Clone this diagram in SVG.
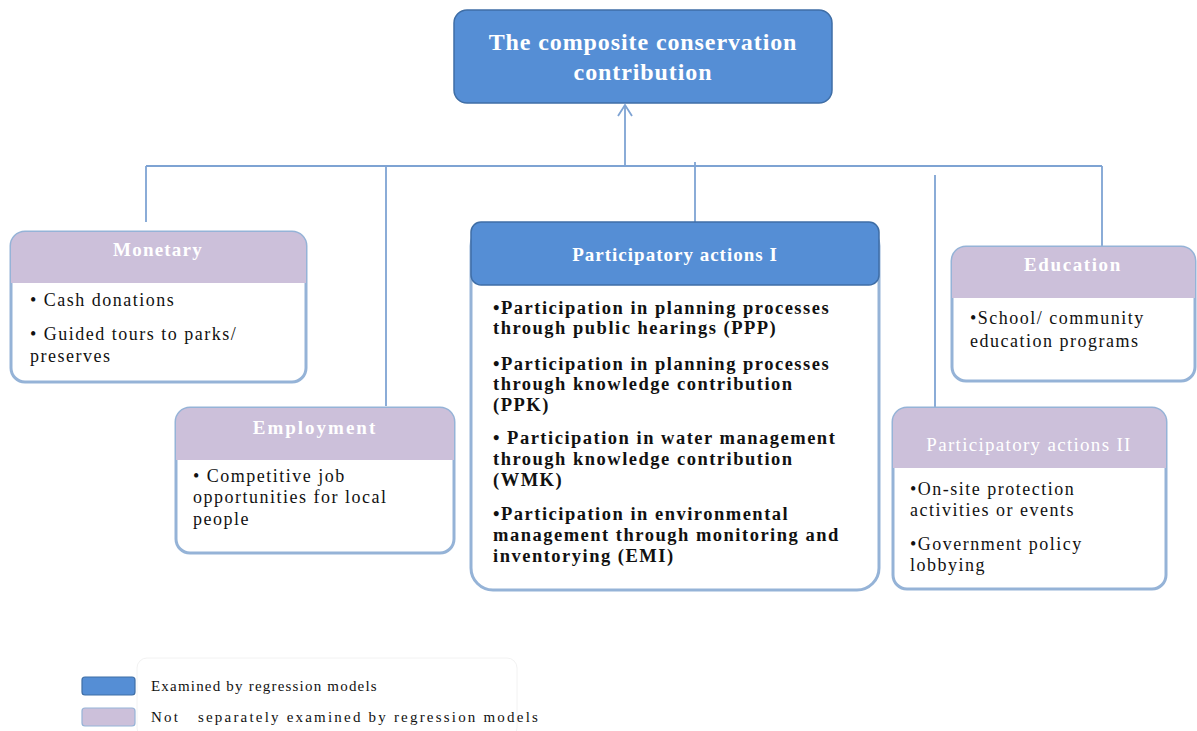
<svg xmlns="http://www.w3.org/2000/svg" width="1197" height="731" viewBox="0 0 1197 731">
<defs>
<style>
.blue{fill:#558ed5;stroke:#3f6ea6;stroke-width:1.5}
.purple{fill:#ccc0da;stroke:none}
.frame{fill:#fff;stroke:#95b3d7;stroke-width:3}
.conn{fill:none;stroke:#7ea3d3;stroke-width:1.8}
.hw{font-family:"Liberation Serif",serif;fill:#fff;font-weight:bold;font-size:19px;text-anchor:middle}
.body{font-family:"Liberation Serif",serif;fill:#111;font-size:18px;letter-spacing:1.5px}
.bb{font-family:"Liberation Serif",serif;fill:#111;font-size:18.5px;font-weight:bold;letter-spacing:1.5px}
.leg{font-family:"Liberation Serif",serif;fill:#111;font-size:15px;letter-spacing:1.2px}
</style>
<marker id="arr" viewBox="0 0 14 16" refX="13" refY="8" markerWidth="14" markerHeight="16" markerUnits="userSpaceOnUse" orient="auto">
<path d="M2,1 L13,8 L2,15" fill="none" stroke="#7ea3d3" stroke-width="1.8"/>
</marker>
</defs>
<rect width="1197" height="731" fill="#fff"/>

<g id="connectors">
<line class="conn" x1="625" y1="166" x2="625" y2="105" marker-end="url(#arr)"/>
<line class="conn" x1="146" y1="166" x2="1102" y2="166"/>
<line class="conn" x1="146" y1="166" x2="146" y2="222"/>
<line class="conn" x1="386" y1="166" x2="386" y2="406"/>
<line class="conn" x1="695" y1="162" x2="695" y2="222"/>
<line class="conn" x1="935" y1="175" x2="935" y2="408"/>
<line class="conn" x1="1102" y1="166" x2="1102" y2="246"/>
</g>

<g id="top">
<rect class="blue" x="454" y="10" width="378" height="93" rx="13"/>
<text class="hw" style="font-size:24px;letter-spacing:0.9px" x="643" y="50">The composite conservation</text>
<text class="hw" style="font-size:24px;letter-spacing:0.9px" x="643" y="80">contribution</text>
</g>

<g id="monetary">
<rect class="frame" x="11" y="232" width="295" height="150" rx="14"/>
<path class="purple" d="M11,283 V246 A14,14 0 0 1 25,232 H292 A14,14 0 0 1 306,246 V283 Z"/>
<text class="hw" x="158" y="256" style="letter-spacing:1.2px">Monetary</text>
<text class="body" x="30" y="306">• Cash donations</text>
<text class="body" x="30" y="340">• Guided tours to parks/</text>
<text class="body" x="30" y="362">preserves</text>
</g>

<g id="employment">
<rect class="frame" x="176" y="408" width="278" height="145" rx="14"/>
<path class="purple" d="M176,460 V422 A14,14 0 0 1 190,408 H440 A14,14 0 0 1 454,422 V460 Z"/>
<text class="hw" x="315" y="434" style="letter-spacing:2px">Employment</text>
<text class="body" x="193" y="482">• Competitive job</text>
<text class="body" x="193" y="503">opportunities for local</text>
<text class="body" x="193" y="525">people</text>
</g>

<g id="pa1">
<rect class="frame" x="471" y="224" width="408" height="366" rx="22"/>
<rect class="blue" x="471" y="222" width="408" height="63" rx="10"/>
<text class="hw" x="675" y="261" style="letter-spacing:1px">Participatory actions I</text>
<text class="bb" x="493" y="314">•Participation in planning processes</text>
<text class="bb" x="493" y="334">through public hearings (PPP)</text>
<text class="bb" x="493" y="370">•Participation in planning processes</text>
<text class="bb" x="493" y="390">through knowledge contribution</text>
<text class="bb" x="493" y="411">(PPK)</text>
<text class="bb" x="493" y="444">• Participation in water management</text>
<text class="bb" x="493" y="465">through knowledge contribution</text>
<text class="bb" x="493" y="486">(WMK)</text>
<text class="bb" x="493" y="520">•Participation in environmental</text>
<text class="bb" x="493" y="541">management through monitoring and</text>
<text class="bb" x="493" y="562">inventorying (EMI)</text>
</g>

<g id="education">
<rect class="frame" x="952" y="247" width="243" height="134" rx="14"/>
<path class="purple" d="M952,298 V261 A14,14 0 0 1 966,247 H1181 A14,14 0 0 1 1195,261 V298 Z"/>
<text class="hw" x="1073" y="271" style="letter-spacing:1.6px">Education</text>
<text class="body" x="970" y="324">•School/ community</text>
<text class="body" x="970" y="347">education programs</text>
</g>

<g id="pa2">
<rect class="frame" x="893" y="408" width="273" height="181" rx="14"/>
<path class="purple" d="M893,468 V422 A14,14 0 0 1 907,408 H1152 A14,14 0 0 1 1166,422 V468 Z"/>
<text class="hw" x="1029" y="451" style="font-weight:normal;letter-spacing:1.3px">Participatory actions II</text>
<text class="body" x="910" y="495">•On-site protection</text>
<text class="body" x="910" y="516">activities or events</text>
<text class="body" x="910" y="550">•Government policy</text>
<text class="body" x="910" y="571">lobbying</text>
</g>

<g id="legend">
<rect x="137" y="658" width="380" height="80" rx="10" fill="#fff" stroke="#f2f2f2" stroke-width="1"/>
<rect x="82" y="677" width="53" height="18" rx="3" fill="#558ed5" stroke="#3f6ea6" stroke-width="1.2"/>
<rect x="82" y="708" width="53" height="18" rx="3" fill="#ccc0da" stroke="#95b3d7" stroke-width="1.2"/>
<text class="leg" x="151" y="691">Examined by regression models</text>
<text class="leg" x="151" y="722" style="letter-spacing:2.2px" xml:space="preserve">Not   separately examined by regression models</text>
</g>
</svg>
